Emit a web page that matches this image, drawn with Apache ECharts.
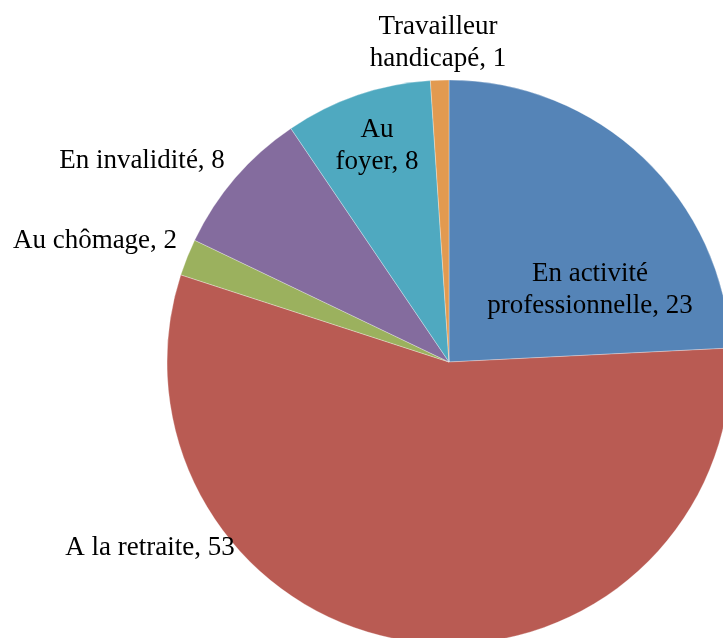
<!DOCTYPE html>
<html>
<head>
<meta charset="utf-8">
<script src="https://cdn.jsdelivr.net/npm/echarts@6/dist/echarts.min.js"></script>
<style>
  html, body { margin: 0; padding: 0; background: #fff; }
  #chart { width: 723px; height: 638px; }
</style>
</head>
<body>
<div id="chart"></div>
<script>
var categories = ['En activité professionnelle', 'A la retraite', 'Au chômage', 'En invalidité', 'Au foyer', 'Travailleur handicapé'];
var values = [23, 53, 2, 8, 8, 1];
var labelText = ['En activité\nprofessionnelle', 'A la retraite', 'Au chômage', 'En invalidité', 'Au\nfoyer', 'Travailleur\nhandicapé'];
var colors = ['#5584B7', '#B95B53', '#9BB15E', '#846C9E', '#4FA9C0', '#E29A50'];

// where each label sits (centre of the text block)
var labelPos = [[590, 290], [150, 548], [95, 241], [142, 161], [377, 146], [438, 43]];

(function() {
  var chart = echarts.init(document.getElementById('chart'), null, { renderer: 'canvas' });
  chart.setOption({
    animation: false,
    series: [{
      type: 'pie',
      center: [449, 362],
      radius: 282,
      startAngle: 90,
      clockwise: true,
      avoidLabelOverlap: false,
      data: categories.map(function(c, i) {
        return { name: c, value: values[i], itemStyle: { color: colors[i] } };
      }),
      itemStyle: { borderColor: 'rgba(255,255,255,0.5)', borderWidth: 0.6 },
      label: {
        show: true,
        position: 'inside',
        color: '#000',
        fontFamily: 'Liberation Serif',
        fontSize: 27,
        lineHeight: 32,
        align: 'center',
        formatter: function(p) { return labelText[p.dataIndex] + ', ' + p.value; }
      },
      labelLine: { show: false },
      labelLayout: function(p) {
        var pos = labelPos[p.dataIndex];
        return { x: pos[0], y: pos[1], align: 'center', verticalAlign: 'middle' };
      },
      emphasis: { disabled: true }
    }]
  });
})();
</script>
</body>
</html>
